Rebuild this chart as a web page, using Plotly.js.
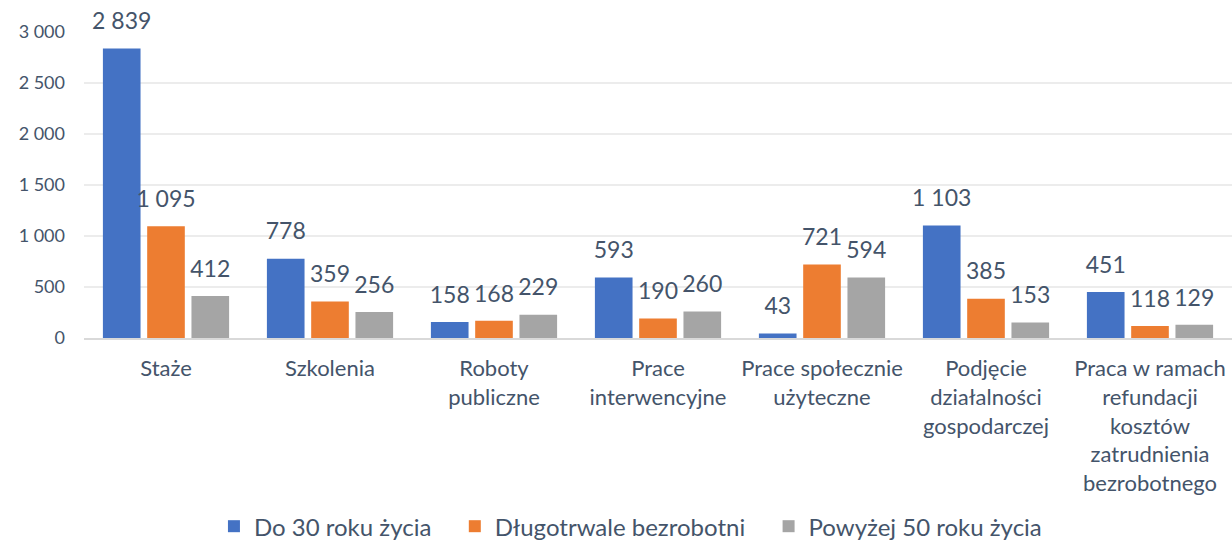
<!DOCTYPE html>
<html>
<head>
<meta charset="utf-8">
<script src="https://cdn.plot.ly/plotly-3.0.1.min.js"></script>
<style>html,body{margin:0;padding:0;background:#fff;}#chart{width:1232px;height:544px;}</style>
</head>
<body>
<div id="chart"></div>
<script>
const categories = ["Staże", "Szkolenia", "Roboty<br>publiczne", "Prace<br>interwencyjne", "Prace społecznie<br>użyteczne", "Podjęcie<br>działalności<br>gospodarczej", "Praca w ramach<br>refundacji<br>kosztów<br>zatrudnienia<br>bezrobotnego"];
const seriesNames = ["Do 30 roku życia", "Długotrwale bezrobotni", "Powyżej 50 roku życia"];
const do30 = [2839, 778, 158, 593, 43, 1103, 451];
const dlugotrwale = [1095, 359, 168, 190, 721, 385, 118];
const powyzej50 = [412, 256, 229, 260, 594, 153, 129];
const colors = ["#4472C4", "#ED7D31", "#A5A5A5"];
const textColor = "#44546A";
const font = "Lato, 'Open Sans', sans-serif";
const nbsp = "\u00a0";

const values = [do30, dlugotrwale, powyzej50];
const traces = values.map((v, i) => ({
  type: "bar",
  name: i < 2 ? seriesNames[i] + nbsp.repeat(3) : seriesNames[i],
  x: categories,
  y: v,
  marker: {color: colors[i]},
  texttemplate: '<span style="font-size:23px">%{y:,}</span><br> ',
  textposition: "outside",
  constraintext: "none",
  cliponaxis: false,
  textfont: {size: 11, color: textColor, family: font},
  hoverinfo: "skip"
}));

const layout = {
  width: 1232, height: 544,
  margin: {l: 84, r: 0, t: 32, b: 206},
  separators: ", ",
  barmode: "group",
  bargap: 0.19,
  bargroupgap: 0.15,
  plot_bgcolor: "#fff", paper_bgcolor: "#fff",
  font: {family: font, color: textColor},
  xaxis: {
    tickfont: {size: 22, color: textColor, family: font},
    showline: true, linecolor: "#d9d9d9", linewidth: 2,
    ticks: "", ticklabelstandoff: 10, fixedrange: true, automargin: false
  },
  yaxis: {
    range: [0, 3000], dtick: 500, tickformat: ",d",
    tickfont: {size: 18, color: textColor, family: font},
    gridcolor: "#ececec", gridwidth: 1.5, zeroline: false,
    ticks: "", ticklabelstandoff: 18, fixedrange: true, automargin: false
  },
  showlegend: true,
  legend: {
    orientation: "h", x: 0.476, xanchor: "center",
    yref: "container", y: 0.032, yanchor: "middle",
    font: {size: 24, color: textColor, family: font},
    itemwidth: 30, traceorder: "normal"
  }
};

Plotly.newPlot("chart", traces, layout, {displayModeBar: false, staticPlot: true});
</script>
</body>
</html>
